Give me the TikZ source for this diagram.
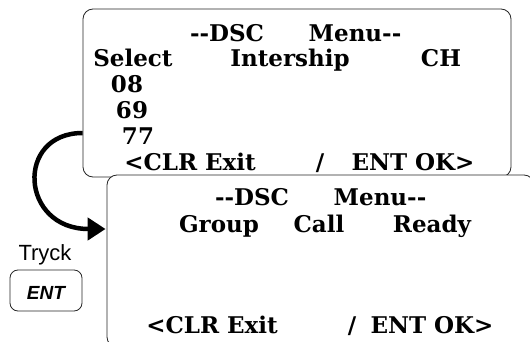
\documentclass[tikz,border=0pt]{standalone}
\usepackage{fontspec}
\setmainfont{DejaVu Serif}
\newfontfamily\keyfont{Liberation Sans}
\usetikzlibrary{arrows.meta, positioning}

\begin{document}
\begin{tikzpicture}[x=1pt, y=-1pt,
		screen/.style={draw=black!85, line width=0.8pt, rounded corners=10pt, fill=white, inner sep=0pt},
		lcd/.style={anchor=base, inner sep=0pt, font=\bfseries\fontsize{23}{25}\selectfont},
		keybox/.style={draw=black!85, line width=0.8pt, rounded corners=8pt, inner sep=0pt},
		bigarrow/.style={line width=4.5pt, -{Triangle[length=18pt, width=22pt]}}]
	% Rahmen
	\useasboundingbox (0,0) rectangle (530,342);
	% erste Anzeige
	\node[screen, minimum width=428pt, minimum height=168pt] (scr1) at (297,93) {};
	\node[lcd] (dsc1)  at (227,42)  {-{}-DSC};
	\node[lcd] (menu1) at (355,42)  {Menu-{}-};
	\node[lcd] (sel)   at (133,67)  {Select};
	\node[lcd] (inter) at (290,67)  {Intership};
	\node[lcd] (ch)    at (441,67)  {CH};
	\node[lcd] (c08)   at (127,93)  {08};
	\node[lcd] (c69)   at (132,119) {69};
	\node[lcd] (c77)   at (138,145) {77};
	\node[lcd] (clr1)  at (190,170) {<CLR Exit};
	\node[lcd] (sl1)   at (320,170) {/};
	\node[lcd] (ent1)  at (413,170) {ENT OK>};
	% zweite Anzeige
	\node[screen, minimum width=427pt, minimum height=172pt] (scr2) at (320.5,261) {};
	\node[lcd] (dsc2)  at (252,205) {-{}-DSC};
	\node[lcd] (menu2) at (380,205) {Menu-{}-};
	\node[lcd] (grp)   at (219,232) {Group};
	\node[lcd] (call)  at (319,232) {Call};
	\node[lcd] (ready) at (432,232) {Ready};
	\node[lcd] (clr2)  at (212,333) {<CLR Exit};
	\node[lcd] (sl2)   at (352,333) {/};
	\node[lcd] (ent2)  at (432,333) {ENT OK>};
	% Taste
	\node[anchor=base, inner sep=0pt, font=\keyfont\fontsize{22}{24}\selectfont] (tryck) at (45,260) {Tryck};
	\node[keybox, minimum width=72pt, minimum height=41pt] (key) at (46,290.5) {};
	\node[anchor=base, inner sep=0pt, font=\keyfont\bfseries\itshape\fontsize{19}{21}\selectfont] (entkey) at (46,299) {ENT};
	% Pfeil
	\draw[bigarrow] ([yshift=-40pt]scr1.west) .. controls (15,133) and (20,229) .. ([xshift=-1pt, yshift=32pt]scr2.west);
\end{tikzpicture}
\end{document}
